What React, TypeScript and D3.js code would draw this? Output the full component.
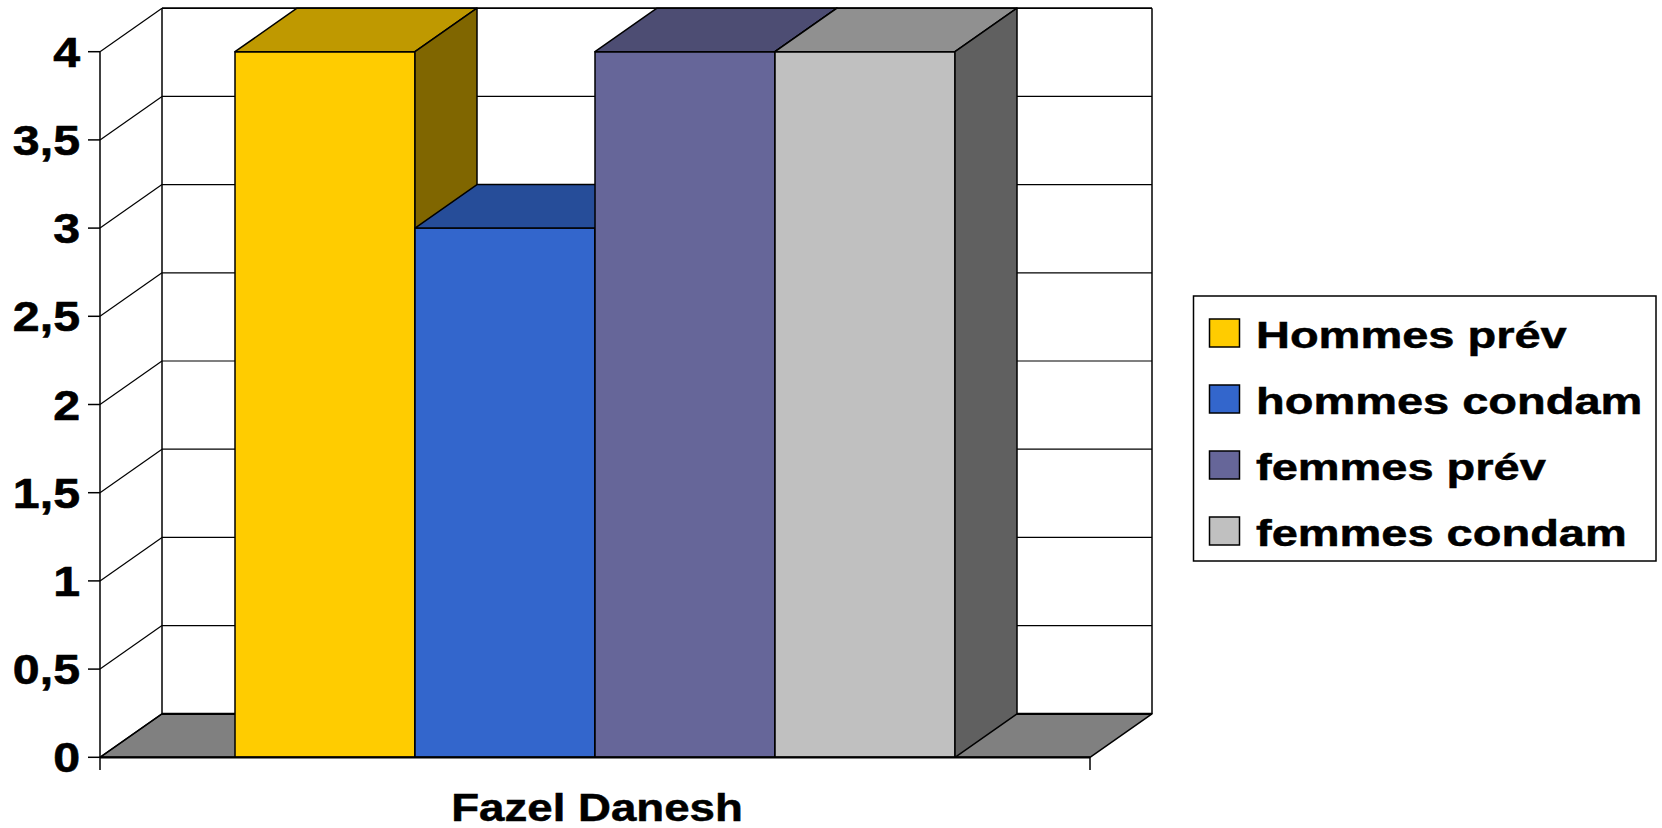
import * as d3 from "d3";

const categories = ["Fazel Danesh"];
const seriesNames = ["Hommes prév", "hommes condam", "femmes prév", "femmes condam"];
const seriesValues = [4, 3, 4, 4];
const seriesColors = ["#FFCC00", "#3366CC", "#666699", "#C0C0C0"];
const yTicks = [0, 0.5, 1, 1.5, 2, 2.5, 3, 3.5, 4];

const W = 1662;
const H = 828;
const FONT = "'Liberation Sans', Arial, sans-serif";

// 3D depth offset (back wall relative to front plane)
const DX = 62;
const DY = 43.5;

const shade = (c: string, k: number) => {
  const r = d3.rgb(c);
  return d3.rgb(r.r * k, r.g * k, r.b * k).formatHex();
};

const fmt = (d: number) => String(d).replace(".", ",");

export default function App() {
  const y = d3.scaleLinear().domain([0, 4]).range([757.3, 51.7]);
  const x = d3
    .scaleBand<string>()
    .domain(categories)
    .range([100, 1090])
    .paddingInner(0)
    .paddingOuter(0.1875);
  const xs = d3
    .scaleBand<string>()
    .domain(seriesNames)
    .range([0, x.bandwidth()])
    .padding(0);

  const x0 = 100;
  const x1 = 1090;
  const y0 = y(0);
  const yTop = y(4);

  const pts = (p: number[][]) => p.map((q) => q.join(",")).join(" ");

  return (
    <svg
      width={W}
      height={H}
      style={{ position: "absolute", left: 0, top: 0, display: "block", background: "#fff" }}
      fontFamily={FONT}
      fontWeight="bold"
    >
      {/* back wall */}
      <rect x={x0 + DX} y={yTop - DY} width={x1 - x0} height={y0 - yTop} fill="#fff" />
      {/* floor */}
      <polygon
        points={pts([
          [x0, y0],
          [x1, y0],
          [x1 + DX, y0 - DY],
          [x0 + DX, y0 - DY],
        ])}
        fill="#808080"
        stroke="#000"
        strokeWidth={1.5}
        strokeLinejoin="round"
      />
      {/* gridlines */}
      <g stroke="#000" strokeWidth={1.2} fill="none">
        {yTicks.map((t) => (
          <g key={t}>
            {t > 0 && <line x1={x0 + DX} x2={x1 + DX} y1={y(t) - DY} y2={y(t) - DY} />}
            <line x1={x0} y1={y(t)} x2={x0 + DX} y2={y(t) - DY} />
          </g>
        ))}
        <line x1={x0 + DX} x2={x1 + DX} y1={yTop - DY} y2={yTop - DY} strokeWidth={1.5} />
        <line x1={x0 + DX} x2={x0 + DX} y1={yTop - DY} y2={y0 - DY} strokeWidth={1.5} />
        <line x1={x1 + DX} x2={x1 + DX} y1={yTop - DY} y2={y0 - DY} strokeWidth={1.5} />
        <line x1={x0 + DX} x2={x1 + DX} y1={y0 - DY} y2={y0 - DY} strokeWidth={2.2} />
      </g>

      {/* bars */}
      <g stroke="#000" strokeWidth={1.5} strokeLinejoin="round">
        {categories.map((cat) =>
          seriesNames.map((s, i) => {
            const bx = (x(cat) ?? 0) + (xs(s) ?? 0);
            const bw = xs.bandwidth();
            const by = y(seriesValues[i]);
            const c = seriesColors[i];
            return (
              <g key={cat + s}>
                <rect x={bx} y={by} width={bw} height={y0 - by} fill={c} />
                <polygon
                  points={pts([
                    [bx, by],
                    [bx + bw, by],
                    [bx + bw + DX, by - DY],
                    [bx + DX, by - DY],
                  ])}
                  fill={shade(c, 0.75)}
                />
                <polygon
                  points={pts([
                    [bx + bw, by],
                    [bx + bw + DX, by - DY],
                    [bx + bw + DX, y0 - DY],
                    [bx + bw, y0],
                  ])}
                  fill={shade(c, 0.5)}
                />
              </g>
            );
          })
        )}
      </g>

      {/* axes */}
      <g stroke="#000" fill="none">
        <line x1={x0} x2={x0} y1={yTop} y2={770} strokeWidth={1.5} />
        <line x1={x0} x2={x1} y1={y0} y2={y0} strokeWidth={2.2} />
        <line x1={x1} x2={x1} y1={y0} y2={770} strokeWidth={1.5} />
        {yTicks.map((t) => (
          <line key={t} x1={88} x2={x0} y1={y(t)} y2={y(t)} strokeWidth={1.5} />
        ))}
      </g>

      {/* y tick labels */}
      <g fontSize={42} textAnchor="end" fill="#000" stroke="#000" strokeWidth={0.6}>
        {yTicks.map((t) => (
          <text key={t} transform={`translate(80,${y(t) + 15}) scale(1.15,1)`}>
            {fmt(t)}
          </text>
        ))}
      </g>

      {/* category label */}
      {categories.map((cat) => (
        <text
          key={cat}
          transform={`translate(${(x0 + x1) / 2 + 2},820.5) scale(1.17,1)`}
          textAnchor="middle"
          fontSize={39}
          fill="#000"
          stroke="#000"
          strokeWidth={0.5}
        >
          {cat}
        </text>
      ))}

      {/* legend */}
      <g>
        <rect x={1193.5} y={296} width={462.5} height={265} fill="#fff" stroke="#000" strokeWidth={1.5} />
        {seriesNames.map((s, i) => {
          const cy = 333 + i * 66;
          return (
            <g key={s}>
              <rect x={1209.5} y={cy - 14} width={30} height={28} fill={seriesColors[i]} stroke="#000" strokeWidth={1.5} />
              <text
                transform={`translate(1256,${cy + 14.5}) scale(1.27,1)`}
                fontSize={37}
                fill="#000"
                stroke="#000"
                strokeWidth={0.5}
              >
                {s}
              </text>
            </g>
          );
        })}
      </g>
    </svg>
  );
}
